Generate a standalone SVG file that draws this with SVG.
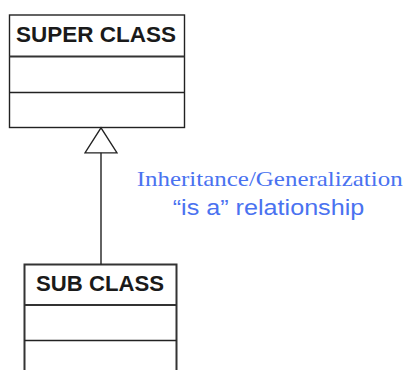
<svg xmlns="http://www.w3.org/2000/svg" width="406" height="370" viewBox="0 0 406 370">
  <style>
    .box { fill: #ffffff; stroke: #222222; stroke-width: 1.4; }
    .div { stroke: #222222; stroke-width: 1.4; }
    .div-head { stroke: #333333; stroke-width: 2; }
    .title { font-family: "Liberation Sans", Arial, sans-serif; font-weight: bold; font-size: 22px; fill: #1a1a1a; }
    .edge { stroke: #222222; stroke-width: 1.4; fill: none; }
    .note-serif { font-family: "Liberation Serif", "Times New Roman", serif; font-size: 21.5px; fill: #4a72f0; }
    .note-sans { font-family: "Liberation Sans", Arial, sans-serif; font-size: 22px; fill: #4a72f0; }
  </style>
  <defs>
    <!-- hollow triangle: UML generalization head -->
    <marker id="gen" markerUnits="userSpaceOnUse" markerWidth="28" markerHeight="36" viewBox="-1 -2 28 36" refX="25" refY="16" orient="auto">
      <path d="M0,0 L25,16 L0,32 Z" fill="#ffffff" stroke="#222222" stroke-width="1.3"/>
    </marker>
  </defs>

  <rect width="406" height="370" fill="#ffffff"/>

  <g id="super-class">
    <rect class="box" x="9.5" y="15" width="175" height="112.5"/>
    <line class="div-head" x1="9.5" y1="56.5" x2="184.5" y2="56.5"/>
    <line class="div" x1="9.5" y1="92.5" x2="184.5" y2="92.5"/>
    <text class="title" x="16" y="41.7" textLength="160" lengthAdjust="spacingAndGlyphs">SUPER CLASS</text>
  </g>

  <g id="sub-class">
    <path class="box" d="M24.5,372 V264.5 H176.5 V372" style="stroke-width:2;stroke:#333333"/>
    <line class="div-head" x1="24.5" y1="305" x2="176.5" y2="305"/>
    <line class="div" x1="24.5" y1="340.5" x2="176.5" y2="340.5"/>
    <text class="title" x="36" y="290.7" textLength="128" lengthAdjust="spacingAndGlyphs">SUB CLASS</text>
  </g>

  <g id="connectors">
    <line class="edge" x1="101" y1="264.5" x2="101" y2="127.8" marker-end="url(#gen)"/>
  </g>

  <g id="label">
    <text class="note-serif" x="136.7" y="186" textLength="266" lengthAdjust="spacingAndGlyphs">Inheritance/Generalization</text>
    <text class="note-sans" x="172.7" y="215" textLength="191.6" lengthAdjust="spacingAndGlyphs">“is a” relationship</text>
  </g>
</svg>
